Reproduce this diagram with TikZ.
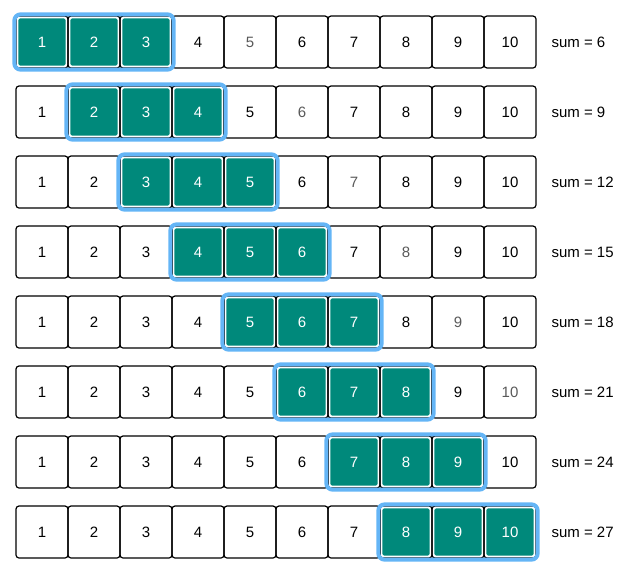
\documentclass[tikz,border=0pt]{standalone}
\usepackage{fontspec}
\setmainfont{Liberation Sans}
\usetikzlibrary{calc}
\definecolor{teal1}{HTML}{00897B}
\definecolor{blue1}{HTML}{64B5F6}
\begin{document}
\begin{tikzpicture}[x=1pt,y=-1pt,
  cell/.style={draw=black,line width=1.2pt,rounded corners=3pt,minimum width=52pt,minimum height=52pt,inner sep=0pt,font=\fontsize{15}{15}\selectfont},
  tealfill/.style={fill=teal1,rounded corners=2pt},
  win/.style={draw=blue1,line width=4pt,rounded corners=6pt},
  lab/.style={anchor=west,font=\fontsize{15}{15}\selectfont}]
\useasboundingbox (0,0) rectangle (640,574);
\foreach \r/\s in {0/6,1/9,2/12,3/15,4/18,5/21,6/24,7/27}{
  \foreach \k in {1,...,10}{
    \pgfmathtruncatemacro\inwin{(\k>\r)&&(\k<\r+4)?1:0}
    \pgfmathtruncatemacro\gray{(\k==\r+5)?1:0}
    \coordinate (c\r-\k) at ({16+52*(\k-1)+26},{42+70*\r});
    \ifnum\inwin=1
      \node[cell] (n\r-\k) at (c\r-\k) {};
      \fill[tealfill] ($(n\r-\k.south west)+(3,-3)$) rectangle ($(n\r-\k.north east)+(-3,3)$);
      \node[text=white,font=\fontsize{15}{15}\selectfont] at (n\r-\k) {\k};
    \else
      \ifnum\gray=1
        \node[cell,text=black!65] (n\r-\k) at (c\r-\k) {\k};
      \else
        \node[cell] (n\r-\k) at (c\r-\k) {\k};
      \fi
    \fi
  }
  \pgfmathtruncatemacro\a{\r+1}
  \pgfmathtruncatemacro\b{\r+3}
  \draw[win] ($(n\r-\a.north west)+(-1,-1)$) rectangle ($(n\r-\b.south east)+(1,1)$);
  \node[lab] (s\r) at (548,{42+70*\r}) {sum = \s};
}
\end{tikzpicture}
\end{document}
